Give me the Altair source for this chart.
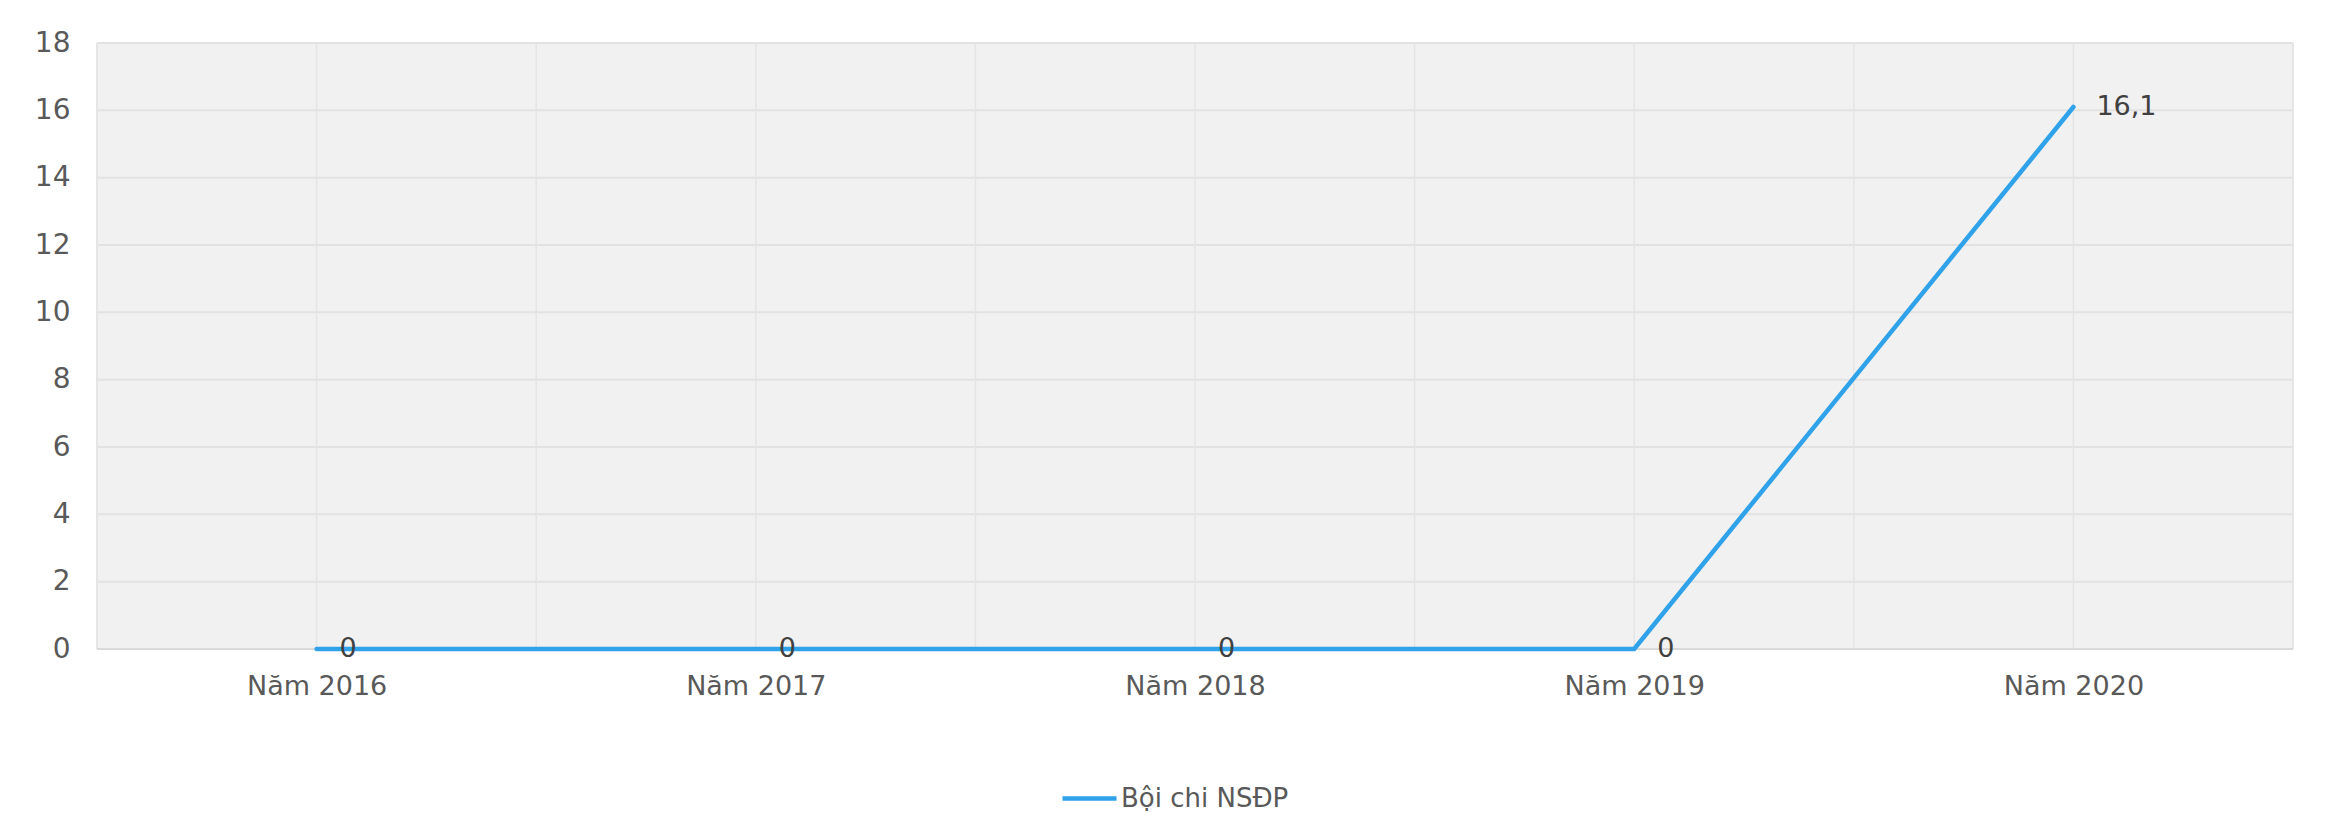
import altair as alt
import pandas as pd

# ---- data ----
categories = ["Năm 2016", "Năm 2017", "Năm 2018", "Năm 2019", "Năm 2020"]
values = [0, 0, 0, 0, 16.1]
value_labels = ["0", "0", "0", "0", "16,1"]
series_name = "Bội chi NSĐP"
y_ticks = [0, 2, 4, 6, 8, 10, 12, 14, 16, 18]

# ---- layout / style ----
W, H = 2196, 606
FONT = "DejaVu Sans"
BLUE = "#2fa2ea"
AXIS_TXT = "#595959"
LBL_TXT = "#404040"

n = len(categories)
df = pd.DataFrame({
    "idx": list(range(n)),
    "cat": categories,
    "value": values,
    "label": value_labels,
    "series": [series_name] * n,
})
x_grid = pd.DataFrame({"g": [i / 2 - 0.5 for i in range(2 * n + 1)]})
y_grid = pd.DataFrame({"g": y_ticks})
bg = pd.DataFrame({"x": [-0.5], "x2": [n - 0.5], "y": [y_ticks[0]], "y2": [y_ticks[-1]]})

xscale = alt.Scale(domain=[-0.5, n - 0.5], nice=False, zero=False)
yscale = alt.Scale(domain=[y_ticks[0], y_ticks[-1]], nice=False)

label_expr = "datum.value % 1 == 0 ? " + str(categories) + "[datum.value] : ''"

x_axis = alt.Axis(
    values=[i / 2 - 0.5 for i in range(2 * n + 1)],
    labelExpr=label_expr,
    title=None,
    grid=False,
    domain=False,
    ticks=False,
    tickSize=0,
    labelPadding=24,
    labelFont=FONT,
    labelFontSize=27,
    labelColor=AXIS_TXT,
)
y_axis = alt.Axis(
    values=y_ticks,
    title=None,
    grid=False,
    domain=False,
    ticks=False,
    tickSize=0,
    labelPadding=27,
    labelFont=FONT,
    labelFontSize=28,
    labelColor=AXIS_TXT,
)

background = alt.Chart(bg).mark_rect(fill="#f1f1f1", stroke="#d9d9d9", strokeWidth=1).encode(
    x=alt.X("x:Q", scale=xscale, axis=x_axis),
    x2="x2:Q",
    y=alt.Y("y:Q", scale=yscale, axis=y_axis),
    y2="y2:Q",
)

hgrid = alt.Chart(y_grid).mark_rule(color="#e2e2e2", strokeWidth=2).encode(
    y=alt.Y("g:Q", scale=yscale)
)
vgrid = alt.Chart(x_grid).mark_rule(color="#e4e4e4", strokeWidth=1.5).encode(
    x=alt.X("g:Q", scale=xscale)
)
baseline = alt.Chart(y_grid[y_grid["g"] == y_ticks[0]]).mark_rule(color="#d9d9d9", strokeWidth=2).encode(
    y=alt.Y("g:Q", scale=yscale)
)

line = alt.Chart(df).mark_line(strokeWidth=4.5, strokeCap="round").encode(
    x=alt.X("idx:Q", scale=xscale),
    y=alt.Y("value:Q", scale=yscale),
    color=alt.Color(
        "series:N",
        scale=alt.Scale(range=[BLUE]),
        legend=alt.Legend(
            orient="none",
            legendX=963,
            legendY=726,
            title=None,
            symbolType="stroke",
            symbolSize=2916,
            symbolStrokeWidth=4.5,
            labelFont=FONT,
            labelFontSize=26,
            labelColor=AXIS_TXT,
            labelOffset=2,
            labelLimit=500,
        ),
    ),
)

labels = alt.Chart(df).mark_text(
    align="left", baseline="middle", dx=23, font=FONT, fontSize=27, color=LBL_TXT
).encode(
    x=alt.X("idx:Q", scale=xscale),
    y=alt.Y("value:Q", scale=yscale),
    text="label:N",
)

chart = alt.layer(background, hgrid, vgrid, baseline, line, labels).properties(
    width=W,
    height=H,
    autosize=alt.AutoSizeParams(type="none"),
    padding={"left": 89, "top": 35, "right": 42, "bottom": 175},
    background="white",
).configure_view(stroke=None)

chart.save("out.html", embed_options={"renderer": "svg", "actions": False})
